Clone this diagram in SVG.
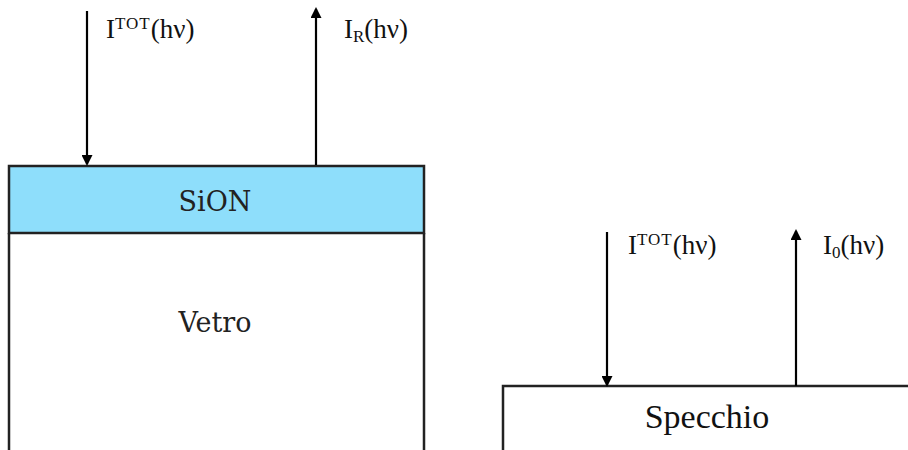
<svg xmlns="http://www.w3.org/2000/svg" width="908" height="450" viewBox="0 0 908 450">
<style>
.box{stroke:#222;stroke-width:2.5}
.lbl{font-family:"Liberation Serif",serif;font-size:27px;fill:#111}
.sup{font-size:17px;letter-spacing:1px}
.sub{font-size:17px}
.big{font-family:"DejaVu Serif","Liberation Serif",serif;font-size:27px;fill:#222;text-anchor:middle}
.sp{font-family:"Liberation Serif",serif;font-size:34px;fill:#111;text-anchor:middle}
.ar{stroke:#000;stroke-width:2.2;fill:none}
</style>
<defs>
<marker id="ah" markerWidth="11" markerHeight="11" refX="9" refY="5.5" orient="auto" markerUnits="userSpaceOnUse">
<path d="M0,0 L11,5.5 L0,11 Z" fill="#000"/>
</marker>
</defs>
<rect width="908" height="450" fill="#fff"/>
<g id="vetro">
<path class="box" d="M9,233 L9,452 M424,233 L424,452" fill="none"/>
<text class="big" x="215" y="332">Vetro</text>
</g>
<g id="sion">
<rect class="box" x="9" y="166" width="415" height="67" fill="#8EDEFB"/>
<text class="big" x="215" y="211">SiON</text>
</g>
<g id="specchio">
<path class="box" d="M503,452 L503,386 L912,386" fill="none"/>
<text class="sp" x="707" y="428">Specchio</text>
</g>
<g id="connectors">
<line class="ar" x1="87" y1="11" x2="87" y2="164" marker-end="url(#ah)"/>
<line class="ar" x1="316" y1="165" x2="316" y2="9" marker-end="url(#ah)"/>
<line class="ar" x1="607" y1="232" x2="607" y2="385" marker-end="url(#ah)"/>
<line class="ar" x1="796" y1="386" x2="796" y2="231" marker-end="url(#ah)"/>
</g>
<g id="labels">
<text class="lbl" x="106" y="38">I<tspan class="sup" dy="-9">TOT</tspan><tspan dy="9">(hν)</tspan></text>
<text class="lbl" x="344" y="38">I<tspan class="sub" dy="4">R</tspan><tspan dy="-4">(hν)</tspan></text>
<text class="lbl" x="628" y="254">I<tspan class="sup" dy="-9">TOT</tspan><tspan dy="9">(hν)</tspan></text>
<text class="lbl" x="823" y="254">I<tspan class="sub" dy="4">0</tspan><tspan dy="-4">(hν)</tspan></text>
</g>
</svg>
